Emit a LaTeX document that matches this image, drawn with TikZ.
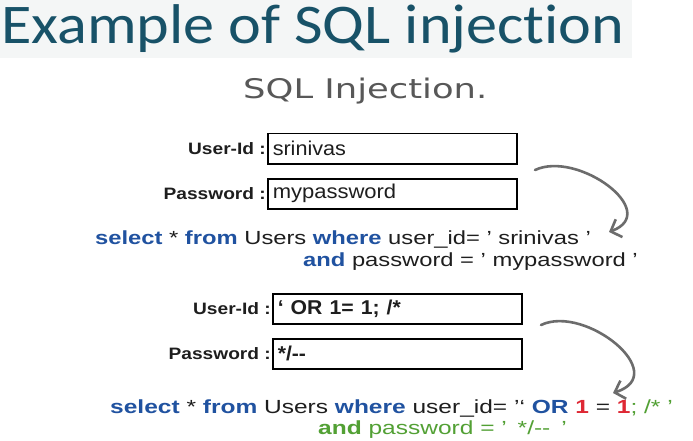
\documentclass[tikz,border=0pt]{standalone}
\usepackage{fontspec}
\setmainfont{Liberation Sans}
\newfontfamily\titlefont[Ligatures={NoCommon,TeX}]{Carlito}
\newfontfamily\headfont{DejaVu Sans}
\usetikzlibrary{arrows.meta}

\definecolor{titleteal}{RGB}{24,82,104}
\definecolor{bandgray}{RGB}{244,246,246}
\definecolor{headgray}{RGB}{88,88,88}
\definecolor{kwblue}{RGB}{32,82,160}
\definecolor{txtblack}{RGB}{30,30,30}
\definecolor{numred}{RGB}{222,40,52}
\definecolor{cmtgreen}{RGB}{82,160,52}
\definecolor{arrowgray}{RGB}{108,108,108}

\tikzset{
  field/.style={draw=black, line width=1.5pt, minimum height=30pt,
    text width=239pt, inner xsep=5pt, inner ysep=0pt, align=left,
    anchor=north west, text=txtblack, font=\fontsize{20}{22}\selectfont},
  fieldlbl/.style={anchor=east, inner sep=1pt, text=txtblack,
    font=\bfseries\fontsize{16.5}{18}\selectfont},
  query/.style={anchor=base west, inner sep=0pt, text=txtblack,
    font=\fontsize{19}{22}\selectfont},
  curlyarrow/.style={draw=arrowgray, line width=2.6pt, line cap=round,
    -{Straight Barb[length=9pt, width=19pt]}},
}
% horizontally widened text
\newcommand{\wide}[2]{\scalebox{#1}[1]{#2}}
\newcommand{\kw}[1]{\textcolor{kwblue}{\bfseries #1}}
\newcommand{\nm}[1]{\textcolor{numred}{\bfseries #1}}

\begin{document}
\begin{tikzpicture}[x=1pt, y=-1pt]
\useasboundingbox (0,0) rectangle (693,441);
\fill[white] (0,0) rectangle (693,441);
\fill[bandgray] (0,0) rectangle (632,58);

% headings
\node[anchor=base west, inner sep=0pt, text=titleteal,
  font=\titlefont\fontsize{56}{60}\selectfont] (title) at (1,44)
  {\wide{1.11}{Example of SQL injection}};
\node[anchor=base west, inner sep=0pt, text=headgray,
  font=\headfont\fontsize{27}{30}\selectfont] (sub) at (243,99)
  {\wide{1.31}{SQL Injection.}};

% first login form
\node[field] (uid1) at (267,133) {\wide{1.08}{srinivas}};
\node[field] (pwd1) at (267,178) {\wide{1.1}{mypassword}};
\node[fieldlbl] (uidl1) at (uid1.west) {\wide{1.16}{User-Id :}};
\node[fieldlbl] (pwdl1) at (pwd1.west) {\wide{1.16}{Password :}};

% resulting query
\node[query] (q1a) at (95,244)
  {\wide{1.25}{\kw{select} * \kw{from} Users \kw{where} user\_id= ' srinivas '}};
\node[query] (q1b) at (303,266)
  {\wide{1.25}{\kw{and} password = ' mypassword '}};

% second login form
\node[field, font=\bfseries\fontsize{20}{22}\selectfont] (uid2) at (272,293) {\wide{1.06}{` OR 1= 1; /*}};
\node[field, font=\bfseries\fontsize{20}{22}\selectfont] (pwd2) at (272,338) {\wide{1.06}{*/-{}-}};
\node[fieldlbl] (uidl2) at (uid2.west) {\wide{1.16}{User-Id :}};
\node[fieldlbl] (pwdl2) at (pwd2.west) {\wide{1.16}{Password :}};

% injected query
\node[query] (q2a) at (110,413)
  {\wide{1.29}{\kw{select} * \kw{from} Users \kw{where} user\_id= '` \kw{OR} \nm{1} = \nm{1}\textcolor{cmtgreen}{; /* '}}};
\node[query, text=cmtgreen] (q2b) at (318,434)
  {\wide{1.29}{\textbf{and} password = ' \,*/-{}-\, '}};

% curved arrows from the forms to the queries
\coordinate (a1s) at (535,170);
\coordinate (a1e) at (609,232);
\draw[curlyarrow] (a1s) .. controls (578,150) and (662,212) .. (a1e);
\coordinate (a2s) at (541,325);
\coordinate (a2e) at (613,393);
\draw[curlyarrow] (a2s) .. controls (585,304) and (672,374) .. (a2e);
\end{tikzpicture}
\end{document}
